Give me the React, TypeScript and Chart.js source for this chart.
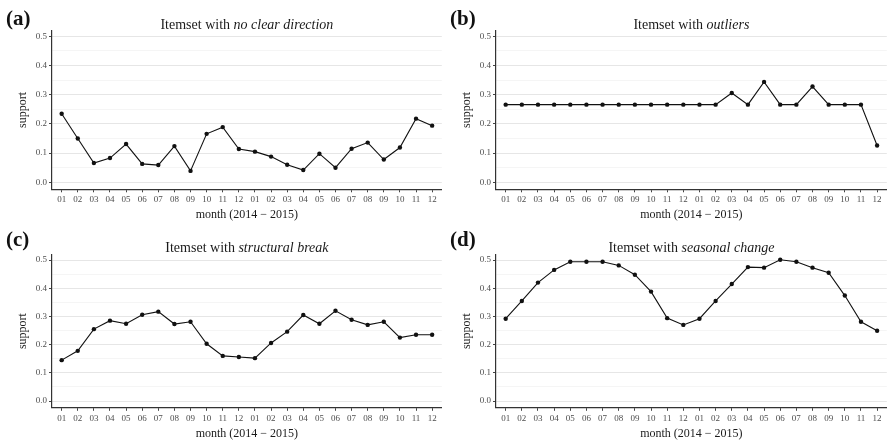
import React, { useEffect, useRef } from "react";
import { Chart, registerables } from "chart.js";

Chart.register(...registerables);

const months = ["01","02","03","04","05","06","07","08","09","10","11","12","01","02","03","04","05","06","07","08","09","10","11","12"];

const noClearDirection = [0.235,0.150,0.066,0.083,0.131,0.063,0.059,0.124,0.039,0.166,0.189,0.114,0.105,0.088,0.060,0.042,0.098,0.050,0.115,0.136,0.078,0.119,0.218,0.194];
const outliers = [0.266,0.266,0.266,0.266,0.266,0.266,0.266,0.266,0.266,0.266,0.266,0.266,0.266,0.266,0.306,0.266,0.344,0.266,0.266,0.328,0.266,0.266,0.266,0.126];
const structuralBreak = [0.145,0.178,0.255,0.285,0.274,0.306,0.317,0.273,0.281,0.203,0.160,0.156,0.152,0.206,0.246,0.305,0.274,0.320,0.288,0.270,0.281,0.225,0.235,0.235];
const seasonalChange = [0.292,0.355,0.420,0.465,0.494,0.494,0.494,0.481,0.448,0.388,0.294,0.270,0.292,0.355,0.415,0.475,0.473,0.501,0.494,0.473,0.455,0.374,0.281,0.249];

const yTickValues = [0, 0.05, 0.1, 0.15, 0.2, 0.25, 0.3, 0.35, 0.4, 0.45, 0.5];
const yTickLabels = ["0.0", "", "0.1", "", "0.2", "", "0.3", "", "0.4", "", "0.5"];

const SERIF = "'Liberation Serif', 'DejaVu Serif', serif";

type PanelProps = {
  label: string;
  titleNormal: string;
  titleItalic: string;
  values: number[];
  width: number;
  height: number;
  areaTop: number;
  areaBottom: number;
  labelBase: number;
  titleBase: number;
  xTitleBase: number;
};

const panelTextPlugin = {
  id: "panelText",
  afterDraw(chart: any, _args: any, opts: any) {
    const ctx = chart.ctx as CanvasRenderingContext2D;
    const area = chart.chartArea;
    const cx = (area.left + area.right) / 2;
    const cy = (area.top + area.bottom) / 2;
    ctx.save();
    ctx.fillStyle = "#111";
    // panel label
    ctx.font = `bold 21px ${SERIF}`;
    ctx.textAlign = "left";
    ctx.textBaseline = "alphabetic";
    ctx.fillText(opts.label, 6, opts.labelBase);
    // title with italic part
    const fN = `14px ${SERIF}`;
    const fI = `italic 14px ${SERIF}`;
    ctx.font = fN;
    const wN = ctx.measureText(opts.titleNormal).width;
    ctx.font = fI;
    const wI = ctx.measureText(opts.titleItalic).width;
    const x0 = cx - (wN + wI) / 2;
    ctx.font = fN;
    ctx.fillStyle = "#1a1a1a";
    ctx.fillText(opts.titleNormal, x0, opts.titleBase);
    ctx.font = fI;
    ctx.fillText(opts.titleItalic, x0 + wN, opts.titleBase);
    // x title
    ctx.font = `12px ${SERIF}`;
    ctx.textAlign = "center";
    ctx.fillText("month (2014 \u2212 2015)", cx, opts.xTitleBase);
    // y title
    ctx.translate(23, cy);
    ctx.rotate(-Math.PI / 2);
    ctx.textBaseline = "middle";
    ctx.fillText("support", 0, 0);
    ctx.restore();
  },
};

function Panel(p: PanelProps) {
  const ref = useRef<HTMLCanvasElement | null>(null);
  useEffect(() => {
    if (!ref.current) return;
    const yAxisWidth = 52;
    const chart = new Chart(ref.current, {
      type: "line",
      data: {
        datasets: [
          {
            data: p.values.map((v, i) => ({ x: i, y: v })),
            borderColor: "#111",
            backgroundColor: "#111",
            borderWidth: 1.1,
            pointRadius: 2.2,
            pointHoverRadius: 2.2,
            pointBackgroundColor: "#111",
            pointBorderWidth: 0,
            tension: 0,
          },
        ],
      },
      options: {
        responsive: false,
        animation: false,
        events: [],
        layout: { padding: { top: p.areaTop, right: 1, left: 0, bottom: 0 } },
        plugins: {
          legend: { display: false },
          tooltip: { enabled: false },
          panelText: {
            label: p.label,
            titleNormal: p.titleNormal,
            titleItalic: p.titleItalic,
            labelBase: p.labelBase,
            titleBase: p.titleBase,
            xTitleBase: p.xTitleBase,
          },
        } as any,
        scales: {
          x: {
            type: "linear",
            min: -0.6,
            max: 23.6,
            afterBuildTicks: (scale: any) => {
              scale.ticks = months.map((_, i) => ({ value: i }));
            },
            afterFit: (scale: any) => {
              scale.height = p.height - p.areaBottom;
            },
            ticks: {
              autoSkip: false,
              maxRotation: 0,
              minRotation: 0,
              padding: 2,
              color: "#4d4d4d",
              font: { family: SERIF, size: 9 },
              callback: (v: any) => months[Math.round(Number(v))] ?? "",
            },
            grid: {
              drawOnChartArea: false,
              drawTicks: true,
              tickLength: 3,
              tickColor: "#444",
            },
            border: { display: true, color: "#333", width: 1.2 },
          },
          y: {
            type: "linear",
            min: -0.024,
            max: 0.52,
            afterBuildTicks: (scale: any) => {
              scale.ticks = yTickValues.map((v) => ({ value: v }));
            },
            afterFit: (scale: any) => {
              scale.width = yAxisWidth;
            },
            ticks: {
              autoSkip: false,
              padding: 2,
              color: "#4d4d4d",
              font: { family: SERIF, size: 9 },
              callback: (_v: any, i: number) => yTickLabels[i] ?? "",
            },
            grid: {
              drawTicks: true,
              tickLength: 3,
              color: (c: any) => (c.index % 2 === 0 ? "#e6e6e6" : "#f2f2f2"),
              lineWidth: (c: any) => (c.index % 2 === 0 ? 1 : 0.8),
              tickColor: (c: any) => (c.index % 2 === 0 ? "#444" : "rgba(0,0,0,0)"),
            },
            border: { display: true, color: "#333", width: 1.2 },
          },
        },
      },
      plugins: [panelTextPlugin],
    } as any);
    return () => chart.destroy();
  }, []);
  return <canvas ref={ref} width={p.width} height={p.height} style={{ display: "block", width: p.width, height: p.height }} />;
}

export default function App() {
  const top = { height: 221, areaTop: 30.5, areaBottom: 189.3, labelBase: 24.5, titleBase: 29, xTitleBase: 218 };
  const bottom = { height: 222, areaTop: 33.4, areaBottom: 186.8, labelBase: 24.5, titleBase: 30.5, xTitleBase: 215.5 };
  return (
    <div style={{ position: "absolute", left: 0, top: 0, width: 889, height: 443, background: "#fff" }}>
      <div style={{ position: "absolute", left: 0, top: 0 }}>
        <Panel label="(a)" titleNormal="Itemset with " titleItalic="no clear direction" values={noClearDirection} width={444} {...top} />
      </div>
      <div style={{ position: "absolute", left: 444, top: 0 }}>
        <Panel label="(b)" titleNormal="Itemset with " titleItalic="outliers" values={outliers} width={445} {...top} />
      </div>
      <div style={{ position: "absolute", left: 0, top: 221 }}>
        <Panel label="(c)" titleNormal="Itemset with " titleItalic="structural break" values={structuralBreak} width={444} {...bottom} />
      </div>
      <div style={{ position: "absolute", left: 444, top: 221 }}>
        <Panel label="(d)" titleNormal="Itemset with " titleItalic="seasonal change" values={seasonalChange} width={445} {...bottom} />
      </div>
    </div>
  );
}
